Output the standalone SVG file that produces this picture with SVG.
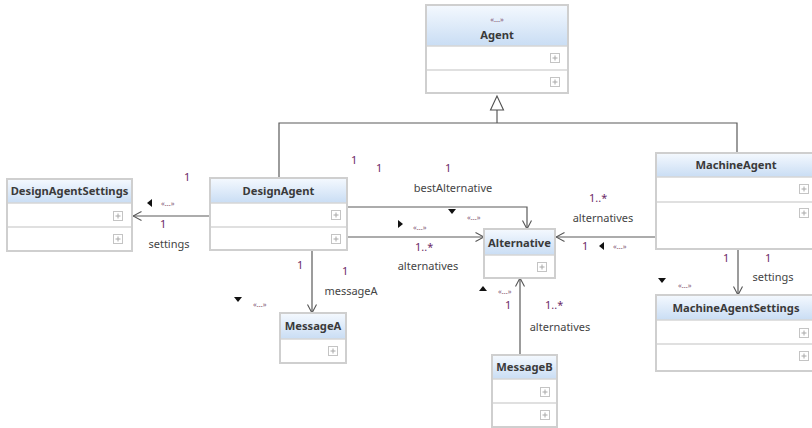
<svg xmlns="http://www.w3.org/2000/svg" width="812" height="428" viewBox="0 0 812 428">
  <defs>
    <linearGradient id="hdr" x1="0" y1="0" x2="0" y2="1">
      <stop offset="0" stop-color="#f3f8fe"/>
      <stop offset="1" stop-color="#c9ddf4"/>
    </linearGradient>
    <marker id="open" viewBox="0 0 10 10" refX="9.5" refY="5" markerWidth="10" markerHeight="10" markerUnits="userSpaceOnUse" orient="auto">
      <path d="M1,0.5 L9.5,5 L1,9.5" fill="none" stroke="#555" stroke-width="1.1"/>
    </marker>
    <g id="plus">
      <rect x="-4.5" y="-4.5" width="9" height="9" fill="#fff" stroke="#c4c4c4" stroke-width="1"/>
      <path d="M-2.5,0 H2.5 M0,-2.5 V2.5" stroke="#a8a8a8" stroke-width="1"/>
    </g>
  </defs>
  <style>
    .box { fill: #fff; stroke: #cfcfcf; stroke-width: 2; }
    .hdr { fill: url(#hdr); }
    .sep { stroke: #d6d6d6; stroke-width: 1.5; }
    .name { font-family: "Noto Sans", "DejaVu Sans", sans-serif; font-size: 11.2px; font-weight: bold; fill: #3a3a3a; text-anchor: middle; }
    .stereo { font-family: "Noto Sans", "DejaVu Sans", sans-serif; font-size: 7.5px; fill: #7a4a6a; }
    .mult { font-family: "Noto Sans", "DejaVu Sans", sans-serif; font-size: 11px; fill: #6b2a66; }
    .role { font-family: "Noto Sans", "DejaVu Sans", sans-serif; font-size: 11px; fill: #444; }
    .mid { text-anchor: middle; }
    .edge { fill: none; stroke: #5a5a5a; stroke-width: 1.2; }
    .tri { fill: #111; }
  </style>

  <!-- Connectors -->
  <g id="connectors">
    <!-- generalization to Agent -->
    <path class="edge" d="M279,178 V123 H737 V153"/>
    <path class="edge" d="M497,123 V110"/>
    <path d="M497,96 L490.5,110 H503.5 Z" fill="#fff" stroke="#505050" stroke-width="1.1"/>
    <!-- directed associations -->
    <path class="edge" d="M210,216 H133" marker-end="url(#open)"/>
    <path class="edge" d="M347,207 H527 V229" marker-end="url(#open)"/>
    <path class="edge" d="M347,237 H484" marker-end="url(#open)"/>
    <path class="edge" d="M656,237 H556" marker-end="url(#open)"/>
    <path class="edge" d="M738,249 V295" marker-end="url(#open)"/>
    <path class="edge" d="M312,250 V313" marker-end="url(#open)"/>
    <path class="edge" d="M520,355 V278" marker-end="url(#open)"/>
  </g>

  <!-- Association end labels -->
  <g id="labels">
    <!-- settings (DesignAgent) -->
    <text class="mult" x="184" y="181">1</text>
    <path class="tri" d="M152,199 V207 L147,203 Z"/>
    <text class="stereo" x="161" y="206">«...»</text>
    <text class="mult" x="160" y="228">1</text>
    <text class="role mid" x="169" y="248">settings</text>

    <!-- bestAlternative -->
    <text class="mult" x="351" y="164">1</text>
    <text class="mult" x="376" y="172">1</text>
    <text class="mult" x="445" y="172">1</text>
    <text class="role mid" x="453" y="192">bestAlternative</text>
    <path class="tri" d="M448,209 H456 L452,214 Z"/>
    <text class="stereo" x="467" y="220">«...»</text>

    <!-- alternatives (DesignAgent) -->
    <path class="tri" d="M398,220 V228 L403,224 Z"/>
    <text class="stereo" x="413" y="230">«...»</text>
    <text class="mult" x="415" y="251">1..*</text>
    <text class="role mid" x="428" y="270">alternatives</text>

    <!-- messageA -->
    <text class="mult" x="297" y="269">1</text>
    <text class="mult" x="342" y="275">1</text>
    <text class="role mid" x="351" y="295">messageA</text>
    <path class="tri" d="M234,297 H242 L238,302 Z"/>
    <text class="stereo" x="253" y="307">«...»</text>

    <!-- alternatives (MachineAgent) -->
    <text class="mult" x="589" y="202">1..*</text>
    <text class="role mid" x="603" y="222">alternatives</text>
    <text class="mult" x="582" y="250">1</text>
    <path class="tri" d="M604,242 V250 L599,246 Z"/>
    <text class="stereo" x="613" y="249">«...»</text>

    <!-- settings (MachineAgent) -->
    <text class="mult" x="723" y="262">1</text>
    <text class="mult" x="765" y="262">1</text>
    <text class="role mid" x="773" y="281">settings</text>
    <path class="tri" d="M658,278 H666 L662,283 Z"/>
    <text class="stereo" x="678" y="288">«...»</text>

    <!-- alternatives (MessageB) -->
    <path class="tri" d="M479,291 H487 L483,286 Z"/>
    <text class="stereo" x="498" y="294">«...»</text>
    <text class="mult" x="505" y="309">1</text>
    <text class="mult" x="545" y="309">1..*</text>
    <text class="role mid" x="560" y="331">alternatives</text>
  </g>

  <!-- Classes -->
  <g id="Agent">
    <rect class="box" x="426" y="5" width="142" height="88"/>
    <rect class="hdr" x="427" y="6" width="140" height="40"/>
    <line class="sep" x1="427" y1="46" x2="567" y2="46"/>
    <line class="sep" x1="427" y1="70" x2="567" y2="70"/>
    <text class="stereo mid" x="497" y="22">«...»</text>
    <text class="name" x="497" y="39">Agent</text>
    <use href="#plus" x="555" y="58"/>
    <use href="#plus" x="555" y="82"/>
  </g>

  <g id="DesignAgentSettings">
    <rect class="box" x="7" y="179" width="125" height="72"/>
    <rect class="hdr" x="8" y="180" width="123" height="23"/>
    <line class="sep" x1="8" y1="203" x2="131" y2="203"/>
    <line class="sep" x1="8" y1="227" x2="131" y2="227"/>
    <text class="name" x="69.5" y="195">DesignAgentSettings</text>
    <use href="#plus" x="118" y="216"/>
    <use href="#plus" x="118" y="239"/>
  </g>

  <g id="DesignAgent">
    <rect class="box" x="210" y="178" width="137" height="72"/>
    <rect class="hdr" x="211" y="179" width="135" height="24"/>
    <line class="sep" x1="211" y1="203" x2="346" y2="203"/>
    <line class="sep" x1="211" y1="227" x2="346" y2="227"/>
    <text class="name" x="278.5" y="195">DesignAgent</text>
    <use href="#plus" x="336" y="215"/>
    <use href="#plus" x="336" y="239"/>
  </g>

  <g id="Alternative">
    <rect class="box" x="484" y="229" width="71" height="49"/>
    <rect class="hdr" x="485" y="230" width="69" height="25"/>
    <line class="sep" x1="485" y1="255" x2="554" y2="255"/>
    <text class="name" x="519.5" y="247">Alternative</text>
    <use href="#plus" x="542" y="267"/>
  </g>

  <g id="MachineAgent">
    <rect class="box" x="656" y="153" width="170" height="96"/>
    <rect class="hdr" x="657" y="154" width="168" height="23"/>
    <line class="sep" x1="657" y1="177" x2="825" y2="177"/>
    <line class="sep" x1="657" y1="202" x2="825" y2="202"/>
    <text class="name" x="736" y="169">MachineAgent</text>
    <use href="#plus" x="804" y="189"/>
    <use href="#plus" x="804" y="213"/>
  </g>

  <g id="MachineAgentSettings">
    <rect class="box" x="656" y="295" width="170" height="76"/>
    <rect class="hdr" x="657" y="296" width="168" height="24"/>
    <line class="sep" x1="657" y1="320" x2="825" y2="320"/>
    <line class="sep" x1="657" y1="344" x2="825" y2="344"/>
    <text class="name" x="736" y="312">MachineAgentSettings</text>
    <use href="#plus" x="804" y="333"/>
    <use href="#plus" x="804" y="356"/>
  </g>

  <g id="MessageA">
    <rect class="box" x="280" y="313" width="66" height="50"/>
    <rect class="hdr" x="281" y="314" width="64" height="25"/>
    <line class="sep" x1="281" y1="339" x2="345" y2="339"/>
    <text class="name" x="313" y="330">MessageA</text>
    <use href="#plus" x="333" y="351"/>
  </g>

  <g id="MessageB">
    <rect class="box" x="492" y="355" width="65" height="72"/>
    <rect class="hdr" x="493" y="356" width="63" height="23"/>
    <line class="sep" x1="493" y1="379" x2="556" y2="379"/>
    <line class="sep" x1="493" y1="403" x2="556" y2="403"/>
    <text class="name" x="524.5" y="371">MessageB</text>
    <use href="#plus" x="545" y="392"/>
    <use href="#plus" x="545" y="415"/>
  </g>
</svg>
